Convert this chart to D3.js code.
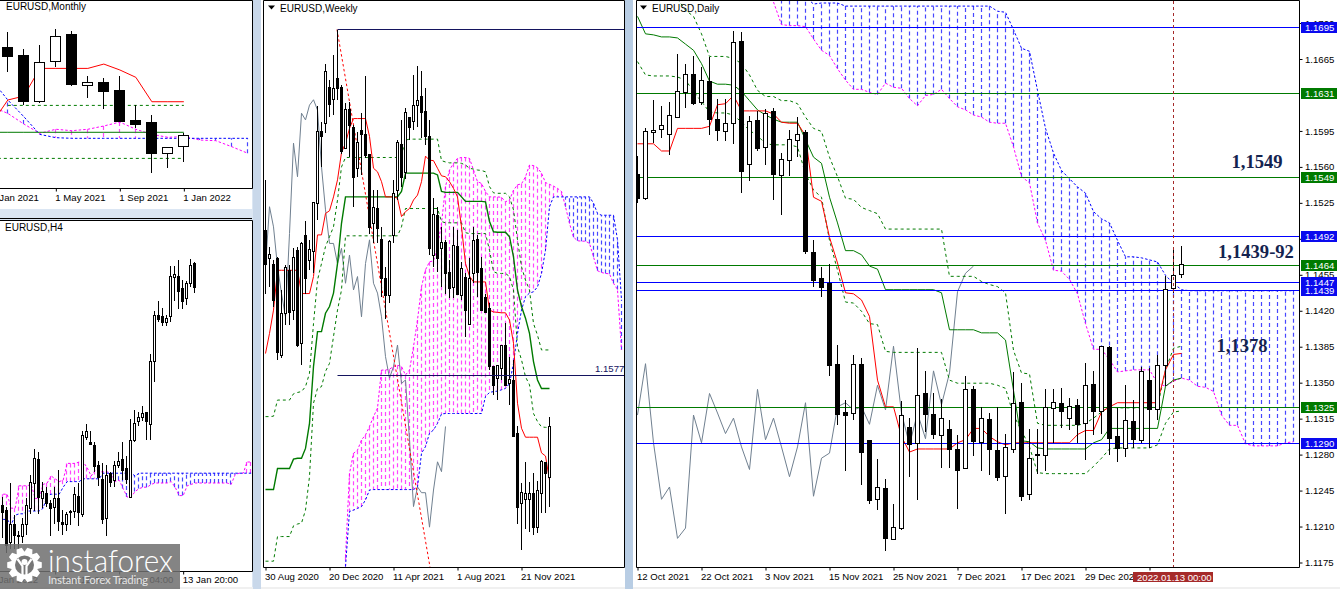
<!DOCTYPE html>
<html><head><meta charset="utf-8">
<script src="https://cdnjs.cloudflare.com/ajax/libs/d3/7.8.5/d3.min.js"></script>
<style>html,body{margin:0;padding:0;background:#dbe6f3}svg{display:block}text{font-family:"Liberation Sans",Arial,sans-serif;font-size:9.6px;fill:#000}</style>
</head><body><svg id="c" width="1340" height="589"></svg>
<script>
// All prices are quoted in points (price x 10000)
const dailyHigh=[11570,11597,11625,11619,11623,11669,11660,11667,11657,11666,11626,11626,11692,11691,11609,11614,11616,11617,11573,11595,11608,11595,11488,11462,11465,11386,11333,11376,11374,11294,11275,11256,11231,11332,11315,11383,11361,11339,11334,11313,11299,11356,11346,11326,11320,11326,11300,11360,11349,11304,11304,11343,11343,11344,11335,11334,11369,11361,11385,11385,11325,11347,11333,11365,11364,11376,11453,11482,11483];
const dailyLow=[11524,11527,11583,11588,11571,11607,11617,11620,11620,11591,11585,11585,11582,11534,11546,11575,11561,11527,11513,11551,11569,11475,11443,11433,11356,11308,11264,11313,11250,11231,11226,11186,11197,11206,11258,11235,11302,11295,11266,11266,11227,11266,11278,11264,11260,11254,11222,11281,11234,11235,11261,11264,11291,11305,11303,11291,11274,11299,11300,11279,11272,11277,11286,11291,11286,11313,11346,11437,11451];
const dailyOpen=[11553,11529,11593,11596,11592,11608,11632,11650,11623,11643,11606,11594,11602,11682,11562,11605,11579,11614,11552,11566,11586,11593,11477,11451,11447,11368,11321,11320,11368,11294,11236,11247,11197,11208,11306,11291,11339,11319,11299,11304,11285,11266,11343,11292,11314,11284,11259,11285,11331,11241,11280,11279,11325,11330,11315,11328,11310,11348,11322,11384,11298,11286,11312,11294,11352,11324,11367,11442,11455];
const dailyClose=[11529,11594,11595,11600,11610,11633,11650,11622,11644,11606,11595,11602,11681,11556,11604,11578,11612,11553,11567,11587,11592,11478,11449,11443,11367,11319,11318,11368,11282,11235,11248,11198,11209,11318,11290,11338,11319,11300,11315,11285,11265,11343,11293,11315,11285,11258,11287,11330,11239,11276,11279,11326,11331,11322,11327,11309,11347,11322,11385,11296,11286,11313,11295,11361,11324,11367,11441,11454,11465];
const dailyTenkan=[11582,11582,11582,11575,11575,11597,11597,11597,11597,11599,11620,11621,11629,11614,11614,11614,11614,11611,11603,11602,11602,11590,11530,11526,11491,11466,11437,11436,11430,11414,11352,11326,11326,11297,11282,11285,11285,11285,11285,11285,11291,11294,11305,11305,11297,11292,11289,11291,11291,11291,11291,11291,11291,11291,11291,11299,11303,11303,11321,11326,11330,11330,11330,11330,11330,11330,11362,11377,11378];
const dailyKijun=[11706,11689,11688,11686,11686,11685,11679,11673,11660,11643,11640,11640,11639,11633,11624,11615,11610,11606,11603,11603,11603,11586,11569,11563,11530,11505,11478,11478,11474,11463,11460,11440,11440,11440,11440,11440,11440,11440,11437,11401,11401,11401,11401,11398,11398,11398,11391,11342,11293,11292,11286,11285,11285,11285,11285,11285,11285,11291,11294,11305,11305,11305,11305,11305,11305,11305,11346,11352,11354];
const dailyUpper=[null,null,null,null,null,11723,11712,11706,11689,11667,11667,11667,11665,11660,11649,11634,11628,11628,11624,11624,11621,11608,11597,11594,11569,11550,11529,11528,11520,11517,11514,11499,11499,11499,11499,11499,11499,11499,11499,11453,11453,11453,11453,11448,11445,11443,11437,11381,11359,11358,11310,11308,11308,11308,11308,11308,11310,11315,11321,11326,11325,11325,11325,11325,11325,11326,11362,11383,11385];
const dailyLower=[11662,11649,11648,11648,11648,11647,11644,11633,11623,11613,11612,11612,11610,11603,11595,11590,11582,11581,11581,11581,11579,11553,11537,11530,11488,11459,11428,11427,11419,11407,11406,11380,11379,11379,11379,11379,11379,11379,11379,11352,11349,11349,11349,11349,11349,11347,11344,11318,11303,11287,11262,11261,11261,11261,11261,11261,11261,11268,11276,11285,11286,11286,11286,11286,11286,11289,11310,11321,11322];
const dailyChikou=[11318,11368,11291,11236,11248,11198,11208,11318,11291,11339,11320,11300,11315,11287,11265,11343,11294,11315,11287,11258,11287,11330,11239,11276,11281,11326,11330,11323,11326,11309,11347,11323,11385,11320,11289,11320,11295,11361,11328,11359,11438,11456,11463];
const dailySpanB=[null,null,null,null,null,null,null,null,null,null,null,null,null,null,null,null,null,null,11725,11725,11725,11725,11718,11719,11719,11719,11716,11716,11716,11716,11716,11716,11716,11716,11716,11716,11716,11716,11716,11716,11716,11716,11716,11716,11716,11711,11710,11693,11675,11672,11634,11597,11573,11556,11548,11540,11534,11516,11509,11505,11488,11472,11472,11471,11469,11467,11454,11446,11440,11439,11439,11439,11439,11439,11439,11439,11439,11439,11439,11439,11439,11439,11439];
const dailySpanA=[null,null,null,null,null,null,null,null,null,null,null,null,null,null,null,null,null,11720,11698,11697,11697,11696,11684,11673,11668,11655,11644,11635,11635,11632,11630,11641,11637,11636,11626,11619,11629,11630,11635,11626,11618,11615,11610,11608,11603,11602,11602,11579,11550,11544,11505,11488,11459,11458,11450,11436,11407,11382,11382,11372,11360,11361,11362,11362,11362,11349,11346,11351,11354,11352,11346,11345,11341,11318,11308,11308,11290,11288,11288,11288,11288,11291,11292];
const dailyTickIndex=[0,8,16,24,32,40,48,56,64];
const dailyTickLabels=["12 Oct 2021","22 Oct 2021","3 Nov 2021","15 Nov 2021","25 Nov 2021","7 Dec 2021","17 Dec 2021","29 Dec 2021",""];
const dailyPriceTicks=[1.1700,1.1665,1.1595,1.1560,1.1525,1.1490,1.1455,1.1420,1.1385,1.1350,1.1315,1.1280,1.1245,1.1210,1.1175];
const dailyBlueLevels=[1.1695,1.1492,1.1447,1.1439,1.1290];
const dailyGreenLevels=[1.1631,1.1549,1.1464,1.1325];

const weeklyHigh=[12013,11864,11834,11841,11767,11823,11823,11860,11864,11875,11920,11879,11964,12177,12143,12273,12236,12292,12349,12225,12184,12188,12136,12121,12162,12245,12071,11990,11990,11908,11819,11879,12013,12102,12147,12173,12154,12247,12267,12257,12218,12147,11972,11953,11908,11879,11834,11908,11901,11830,11804,11838,11908,11890,11841,11759,11737,11597,11600,11644,11693,11618,11610,11462,11335,11382,11339,11359,11341,11387,11383,11484];
const weeklyLow=[11759,11774,11730,11610,11614,11689,11689,11700,11640,11599,11759,11812,11804,11923,12042,12117,12154,12158,12192,12071,12083,12065,11953,12020,12024,12061,11893,11871,11871,11752,11703,11737,11871,11968,11998,12016,12102,12124,12132,12106,12091,11845,11819,11808,11774,11759,11748,11748,11759,11744,11663,11692,11782,11752,11722,11718,11588,11532,11521,11566,11555,11510,11441,11245,11186,11234,11227,11219,11223,11269,11268,11283];
const weeklyOpen=[11901,11838,11826,11838,11622,11715,11812,11722,11856,11648,11890,11834,11853,11961,12122,12139,12221,12193,12240,12220,12085,12171,12132,12039,12124,12115,12071,11917,11951,11880,11793,11756,11890,11990,12093,12031,12153,12145,12180,12200,12167,12110,11845,11934,11860,11875,11808,11774,11865,11756,11797,11692,11804,11882,11815,11752,11726,11597,11570,11592,11644,11560,11566,11447,11292,11301,11301,11313,11238,11313,11382,11350];
const weeklyClose=[11826,11847,11744,11629,11715,11819,11718,11841,11644,11873,11793,11858,11963,12122,12111,12256,12183,12218,12218,12078,12171,12136,12020,12098,12115,12069,11908,11953,11905,11793,11756,11877,11983,12098,12020,12164,12132,12180,12192,12165,12110,11860,11937,11838,11875,11804,11771,11867,11759,11815,11722,11793,11879,11808,11722,11718,11596,11555,11599,11644,11555,11567,11441,11281,11315,11313,11313,11237,11321,11385,11359,11463];
const weeklyTenkan=[11625,11670,11722,11811,11811,11811,11811,11811,11811,11759,11759,11759,11797,11890,11890,11938,11944,11975,12013,12074,12095,12128,12150,12150,12150,12150,12110,12039,12031,12009,11975,11975,11975,11972,11931,11942,11949,11968,11979,12009,12066,12057,12056,12039,12022,12020,12009,11994,11975,11908,11826,11798,11785,11785,11785,11785,11722,11718,11717,11716,11716,11700,11648,11514,11458,11438,11438,11438,11438,11403,11396,11342];
const weeklyKijun=[11321,11321,11321,11368,11368,11368,11368,11389,11391,11391,11413,11469,11596,11674,11674,11715,11730,11760,11826,11916,11975,11975,11975,11975,11975,11975,11975,11975,11975,11975,11975,11975,11975,11975,11987,12028,12028,12028,12028,12028,12028,12028,12028,12024,11987,11985,11985,11985,11985,11975,11965,11965,11965,11965,11965,11964,11920,11897,11896,11896,11896,11886,11841,11767,11730,11704,11670,11607,11566,11547,11547,11547];
const weeklyUpper=[11484,11484,11485,11521,11521,11521,11521,11535,11538,11540,11551,11581,11692,11789,11826,11864,11886,11908,11968,12042,12063,12063,12063,12063,12063,12063,12063,12063,12063,12063,12063,12063,12063,12063,12069,12102,12104,12104,12104,12104,12104,12104,12104,12104,12056,12053,12051,12051,12051,12050,12046,12039,12037,12035,12034,12031,11998,11984,11983,11983,11983,11975,11946,11879,11819,11789,11767,11692,11666,11633,11633,11633];
const weeklyLower=[11161,11161,11161,11216,11216,11216,11216,11240,11244,11246,11275,11350,11514,11547,11551,11585,11603,11663,11722,11767,11888,11888,11888,11888,11888,11888,11888,11888,11888,11888,11888,11888,11888,11888,11908,11949,11949,11949,11949,11949,11949,11949,11949,11949,11920,11917,11917,11917,11917,11917,11895,11893,11893,11893,11893,11893,11856,11808,11804,11804,11804,11797,11767,11640,11611,11573,11555,11491,11473,11461,11460,11460];
const weeklyChikou=[11819,11953,11908,11819,11759,11707,11893,12095,12020,12162,12147,12180,12192,12169,12042,11946,11871,11871,11826,11860,11782,11845,11767,11797,11707,11826,11879,11782,11760,11707,11618,11570,11596,11644,11558,11566,11432,11283,11327,11314,11314,11237,11320,11383,11361,11462];
const weeklySpanA=[null,null,null,null,null,null,null,null,null,null,null,null,null,null,null,null,null,null,null,null,11171,11357,11402,11409,11432,11443,11462,11484,11503,11588,11588,11590,11596,11599,11596,11577,11588,11640,11700,11774,11812,11830,11832,11864,11916,11998,12035,12050,12061,12063,12063,12061,12035,12009,12005,11987,11975,11975,11975,11974,11964,11968,11990,12002,12004,12020,12046,12045,12040,12028,12007,12003,11999,11994,11987,11953,11916,11885,11877,11876,11876,11871,11841,11810,11806,11804,11803,11782,11768,11633];
const weeklySpanB=[null,null,null,null,null,null,null,null,null,null,null,null,null,null,null,null,null,null,null,null,11149,11272,11275,11279,11283,11298,11320,11321,11321,11321,11321,11321,11321,11321,11321,11321,11321,11321,11327,11402,11417,11447,11454,11469,11490,11491,11491,11491,11491,11491,11491,11491,11491,11491,11491,11529,11538,11540,11541,11544,11547,11558,11603,11670,11722,11752,11760,11763,11774,11804,11856,11953,11975,11975,11975,11975,11975,11975,11975,11975,11975,11975,11961,11938,11934,11934,11934,11934,11879,11745];
const weeklyTickIndex=[0,16,32,48,64];
const weeklyTickLabels=["30 Aug 2020","20 Dec 2020","11 Apr 2021","1 Aug 2021","21 Nov 2021"];
const weeklyPeak=12349, weeklyPeakIndex=18, weeklyLevel=11577, weeklyTrendEndIndex=41.25, weeklyTrendEnd=11148;

const monthlyHigh=[12349,12258,12129,12159,12281,12266,11923,11905,11923,11699,11623,11384,11486];
const monthlyLow=[12056,11956,11699,11720,11994,11847,11758,11669,11575,11524,11186,11224,11268];
const monthlyOpen=[12214,12144,12083,11735,12040,12240,11857,11875,11816,11588,11570,11339,11387];
const monthlyClose=[12136,12078,11735,12027,12231,11864,11875,11811,11583,11560,11339,11384,11471];
const monthlyTenkan=[11562,11740,11770,11981,11981,11981,11981,12014,11969,11913,11727,11727,11727];
const monthlyKijun=[11494,11494,11494,11494,11494,11494,11494,11494,11494,11494,11494,11494,11494];
const monthlyUpper=[null,11699,11699,11699,11699,11699,11699,11699,11699,11699,11699,11699,11699];
const monthlyLower=[11295,11295,11295,11295,11295,11295,11295,11295,11295,11295,11295,11295,11295];
const monthlySpanA=[11689,11638,11557,11486,11517,11506,11517,11542,11572,11517,11478,11456,11461,11435,11430,11384,11334];
const monthlySpanB=[11892,11740,11613,11478,11453,11448,11448,11448,11448,11448,11448,11448,11448,11448,11448,11448,11448];
const monthlyTickIndex=[0,4,8,12];
const monthlyTickLabels=["1 Jan 2021","1 May 2021","1 Sep 2021","1 Jan 2022"];

const h4High=[11312,11305,11322,11299,11288,11297,11311,11328,11346,11344,11323,11319,11310,11319,11331,11303,11301,11303,11319,11322,11359,11364,11359,11351,11338,11336,11335,11330,11338,11344,11351,11341,11368,11374,11373,11377,11373,11414,11445,11452,11447,11442,11477,11477,11481,11467,11466,11482,11480];
const h4Low=[11283,11272,11275,11275,11275,11279,11285,11300,11302,11300,11304,11305,11284,11293,11288,11285,11288,11292,11297,11291,11298,11353,11349,11330,11320,11293,11284,11319,11319,11333,11324,11321,11312,11351,11363,11366,11353,11353,11394,11437,11434,11434,11437,11452,11446,11446,11449,11462,11458];
const h4Open=[11306,11303,11280,11293,11284,11284,11293,11304,11322,11339,11311,11315,11308,11305,11311,11294,11293,11301,11302,11313,11300,11355,11351,11349,11335,11325,11297,11329,11324,11335,11339,11333,11312,11353,11366,11369,11373,11364,11409,11442,11441,11437,11441,11469,11470,11461,11454,11465,11479];
const h4Close=[11301,11278,11293,11285,11285,11293,11306,11323,11340,11312,11316,11308,11304,11311,11295,11293,11300,11302,11314,11301,11356,11359,11350,11334,11326,11296,11328,11323,11335,11338,11331,11325,11353,11365,11369,11372,11366,11409,11442,11439,11437,11440,11470,11471,11459,11452,11465,11478,11462];
const h4SpanA=[11314,11314,11304,11304,11320,11320,11320,11321,11311,11311,11321,11322,11327,11325,11323,11324,11336,11336,11336,11337,11337,11333,11327,11331,11330,11330,11330,11329,11323,11324,11318,11312,11312,11316,11318,11319,11319,11321,11322,11322,11322,11322,11323,11319,11313,11313,11320,11321,11322,11322,11322,11322,11322,11322,11322,11322,11322,11321,11328,11329,11329,11337,11337];
const h4SpanB=[11296,11296,11292,11299,11300,11300,11302,11302,11302,11302,11304,11313,11314,11314,11314,11319,11323,11323,11323,11323,11325,11325,11325,11325,11325,11329,11329,11329,11329,11329,11329,11329,11329,11327,11329,11329,11329,11329,11329,11329,11329,11329,11329,11329,11329,11329,11329,11329,11329,11329,11329,11329,11329,11329,11329,11329,11329,11329,11329,11329,11329,11329,11329];
const h4TickIndex=[-3,13,29,45];
const h4TickLabels=["5 Jan 2022","7 Jan 12:00","11 Jan 04:00","13 Jan 20:00"];

const GREEN="#007a00",BLUE="#0000ff",MAG="#ff00ff",RED="#ff0000",GREY="#708090",NAVY="#14145f";
const svg=d3.select("#c");
svg.append("rect").attr("width",1340).attr("height",589).attr("fill","#dbe6f3");
svg.append("rect").attr("y",587).attr("width",1340).attr("height",2).attr("fill","#f0f0f0");
svg.append("rect").attr("x",253).attr("width",8).attr("height",589).attr("fill","#c9d8ea");
svg.append("rect").attr("x",625).attr("width",8).attr("height",589).attr("fill","#b8cde4");

function pane(o){
  const g=svg.append("g");
  g.append("rect").attr("x",o.bx).attr("y",o.by).attr("width",o.bw).attr("height",o.bh).attr("fill","#fff");
  const id="clip"+o.name;
  svg.append("clipPath").attr("id",id).append("rect").attr("x",o.left).attr("y",o.top).attr("width",o.right-o.left).attr("height",o.bottom-o.top);
  const x=d3.scaleLinear().domain([0,1]).range([o.x0,o.x0+o.step]);
  const y=d3.scaleLinear().domain([o.p0/1e4,o.p1/1e4]).range([o.y0,o.y1]);
  const yp=v=>y(v/1e4);
  const sx=i=>Math.floor(x(i))+0.5;
  const plot=g.append("g").attr("clip-path","url(#"+id+")");
  // cloud
  if(o.spanA){
    const A=o.spanA,B=o.spanB;
    const idx=d3.range(A.length).filter(i=>A[i]!=null&&B[i]!=null);
    plot.append("g").selectAll("line").data(idx).join("line")
      .attr("x1",i=>sx(i)).attr("x2",i=>sx(i)).attr("y1",i=>yp(A[i])).attr("y2",i=>yp(B[i]))
      .style("stroke",i=>A[i]>=B[i]?MAG:BLUE).attr("stroke-width",1.2).attr("stroke-opacity",0.72).attr("stroke-dasharray","4,3");
    [[A,MAG],[B,BLUE]].forEach(([s,c])=>{
      plot.append("path").attr("fill","none").attr("stroke",c).attr("stroke-dasharray","2.5,2")
        .attr("d",d3.line().defined(d=>d!=null).x((d,i)=>x(i)+.5).y(d=>yp(d))(s));
    });
  }
  (o.lines||[]).forEach(l=>{
    plot.append("path").attr("fill","none").attr("stroke",l.c).attr("stroke-width",l.w||1)
      .attr("stroke-dasharray",l.dash||null)
      .attr("d",d3.line().defined(d=>d!=null).x((d,i)=>x(i)+.5).y(d=>yp(d))(l.s));
  });
  if(o.extra) o.extra(plot,x,y,yp);
  // candles
  const idx=d3.range(o.high.length);
  const c=plot.append("g");
  c.selectAll("line").data(idx).join("line").attr("x1",i=>sx(i)).attr("x2",i=>sx(i))
    .attr("y1",i=>Math.round(yp(o.high[i]))).attr("y2",i=>Math.round(yp(o.low[i]))).attr("stroke","#000");
  c.selectAll("rect").data(idx).join("rect")
    .attr("x",i=>sx(i)-Math.ceil(o.bodyW/2))
    .attr("width",o.bodyW)
    .attr("y",i=>Math.round(yp(Math.max(o.open[i],o.close[i])))+.5)
    .attr("height",i=>Math.max(1,Math.round(yp(Math.min(o.open[i],o.close[i])))-Math.round(yp(Math.max(o.open[i],o.close[i])))))
    .attr("fill",i=>o.close[i]>o.open[i]?"#fff":"#000").attr("stroke","#000");
  if(o.over) o.over(plot,x,y,yp);
  // frame
  g.append("path").attr("fill","none").attr("stroke","#000")
    .attr("d",`M${o.left-.5},${o.top-.5}H${o.right+.5}V${o.bottom+.5}H${o.left-.5}Z`);
  // time axis
  const ax=d3.axisBottom(x).tickValues(o.ticks).tickFormat((d,i)=>o.labels[i]).tickSize(3).tickSizeOuter(0);
  const ag=g.append("g").attr("transform",`translate(0.5,${o.bottom+.5})`).call(ax);
  ag.select(".domain").remove();
  ag.selectAll("line").attr("stroke","#000");
  ag.selectAll("text").attr("text-anchor","start").attr("x",-1).attr("y",o.axisTextY||6).attr("dy","0.71em").attr("fill","#000").style("font-size","9.6px").style("font-family",'"Liberation Sans",Arial,sans-serif');
  // title
  if(o.tri) g.append("path").attr("d",`M${o.tri},5.5h7l-3.5,4z`).attr("fill","#000");
  g.append("text").attr("x",o.tx).attr("y",o.ty).text(o.title).style("font-size","10px");
  return {g,x,y,yp,sx};
}

// ---------- monthly
pane({name:"m",bx:0,by:0,bw:252,bh:209,left:-2,right:252,top:1,bottom:188,x0:-8.67,step:16,p0:12266,p1:11186,y0:31,y1:172.7,
  high:monthlyHigh,low:monthlyLow,open:monthlyOpen,close:monthlyClose,bodyW:10,spanA:monthlySpanA,spanB:monthlySpanB,
  lines:[{s:monthlyLower,c:GREEN,dash:"3,3"},{s:monthlyUpper,c:GREEN,dash:"3,3"},{s:monthlyKijun,c:GREEN},{s:monthlyTenkan,c:RED}],
  ticks:monthlyTickIndex,labels:monthlyTickLabels,title:"EURUSD,Monthly",tx:6,ty:10});
// ---------- H4
pane({name:"h",bx:0,by:220,bw:252,bh:367,left:-2,right:252,top:221,bottom:571,x0:2.67,step:4,p0:11482,p1:11282,y0:259,y1:539,
  high:h4High,low:h4Low,open:h4Open,close:h4Close,bodyW:2,spanA:h4SpanA,spanB:h4SpanB,
  ticks:h4TickIndex,labels:h4TickLabels,title:"EURUSD,H4",tx:5,ty:231,axisTextY:5});
svg.append("line").attr("x1",0).attr("x2",252).attr("y1",218.5).attr("y2",218.5).attr("stroke","#000");

// ---------- weekly
pane({name:"w",bx:261,by:0,bw:364,bh:587,left:264,right:624,top:1,bottom:567,x0:265,step:4,p0:11577,p1:12349,y0:375,y1:29.5,
  high:weeklyHigh,low:weeklyLow,open:weeklyOpen,close:weeklyClose,bodyW:2,spanA:weeklySpanA,spanB:weeklySpanB,
  lines:[{s:weeklyChikou,c:GREY},{s:weeklyLower,c:GREEN,dash:"3,3"},{s:weeklyUpper,c:GREEN,dash:"3,3"},{s:weeklyKijun,c:GREEN,w:1.4},{s:weeklyTenkan,c:RED}],
  extra:(p,x,y,yp)=>{
    p.append("line").attr("x1",x(weeklyPeakIndex)).attr("y1",yp(weeklyPeak)).attr("x2",x(weeklyTrendEndIndex)).attr("y2",yp(weeklyTrendEnd)).attr("stroke",RED).attr("stroke-dasharray","2.5,2.5");
  },
  over:(p,x,y,yp)=>{
    [weeklyPeak,weeklyLevel].forEach(v=>{
      p.append("line").attr("x1",Math.floor(x(weeklyPeakIndex))+.5).attr("x2",624).attr("y1",Math.floor(yp(v))+.5).attr("y2",Math.floor(yp(v))+.5).attr("stroke",NAVY);
    });
    p.append("text").attr("x",595).attr("y",yp(weeklyLevel)-3).text((weeklyLevel/1e4).toFixed(4)).style("fill",NAVY);
  },
  ticks:weeklyTickIndex,labels:weeklyTickLabels,title:"EURUSD,Weekly",tx:280,ty:12,tri:268});

// ---------- daily
const d=pane({name:"d",bx:633,by:0,bw:707,bh:587,left:637,right:1299,top:1,bottom:567,x0:637,step:8,p0:11665,p1:11175,y0:58.5,y1:562,
  high:dailyHigh,low:dailyLow,open:dailyOpen,close:dailyClose,bodyW:4,spanA:dailySpanA,spanB:dailySpanB,
  lines:[{s:dailyChikou,c:GREY},{s:dailyLower,c:GREEN,dash:"3,3"},{s:dailyUpper,c:GREEN,dash:"3,3"},{s:dailyKijun,c:GREEN},{s:dailyTenkan,c:RED}],
  extra:(p,x,y)=>{
    dailyBlueLevels.forEach(v=>p.append("line").attr("x1",637).attr("x2",1299).attr("y1",Math.floor(y(v))+.5).attr("y2",Math.floor(y(v))+.5).attr("stroke",BLUE));
    dailyGreenLevels.forEach(v=>p.append("line").attr("x1",637).attr("x2",1299).attr("y1",Math.floor(y(v))+.5).attr("y2",Math.floor(y(v))+.5).attr("stroke",GREEN));
  },
  over:(p,x)=>{
    p.append("line").attr("x1",Math.floor(x(67))+.5).attr("x2",Math.floor(x(67))+.5).attr("y1",1).attr("y2",567).attr("stroke","#a52a2a").attr("stroke-dasharray","3,3");
  },
  ticks:dailyTickIndex,labels:dailyTickLabels,title:"EURUSD,Daily",tx:652,ty:12,tri:640});
const yax=d3.axisRight(d.y).tickValues(dailyPriceTicks).tickFormat(d3.format(".4f")).tickSize(3).tickSizeOuter(0);
const yg=d.g.append("g").attr("transform","translate(1299.5,0.5)").call(yax);
yg.select(".domain").remove();
yg.selectAll("text").attr("x",5.5).style("font-size","9.6px").style("font-family",'"Liberation Sans",Arial,sans-serif').attr("fill","#000");
[[dailyBlueLevels,"#0a0aee"],[dailyGreenLevels,"#007a00"]].forEach(([a,c])=>a.forEach(v=>{
  d.g.append("rect").attr("x",1301).attr("y",Math.floor(d.y(v))-5).attr("width",36).attr("height",11).attr("fill",c);
}));
[[dailyBlueLevels],[dailyGreenLevels]].forEach(([a])=>a.forEach(v=>{
  d.g.append("text").attr("x",1305).attr("y",Math.floor(d.y(v))+4).text(v.toFixed(4)).style("fill","#fff");
}));
d.g.append("rect").attr("x",1133).attr("y",572).attr("width",80).attr("height",10).attr("fill","#a52a2a");
d.g.append("text").attr("x",1137).attr("y",580.5).text("2022.01.13 00:00").style("fill","#fff");
[["1,1549",1231.5,168],["1,1439-92",1218,258],["1,1378",1216.5,352]].forEach(([t,tx,ty])=>{
  d.g.append("text").attr("x",tx).attr("y",ty).text(t).style("font-family",'"Liberation Serif",serif').style("font-weight","bold").style("font-size","18.6px").style("fill","#14234f");
});

// ---------- logo
const logo=svg.append("g");
logo.append("rect").attr("x",0).attr("y",544).attr("width",180).attr("height",45).attr("fill","#707070").attr("fill-opacity",0.86);
const gear=[];const n=10,cx=24.5,cy=565;
for(let k=0;k<n;k++){const a=k*2*Math.PI/n;const t=Math.PI/n;
  [[a-t*.95,13.5],[a-t*.5,17.5],[a+t*.5,17.5],[a+t*.95,13.5]].forEach(([b,r])=>gear.push([cx+r*Math.cos(b),cy+r*Math.sin(b)]));}
logo.append("path").attr("d",d3.line()(gear)+"Z").attr("fill","#fff");
logo.append("circle").attr("cx",cx).attr("cy",cy).attr("r",9.5).attr("fill","#777");
logo.append("circle").attr("cx",cx).attr("cy",cy-3).attr("r",3).attr("fill","#fff");
logo.append("path").attr("d",`M${cx-7},${cy-6}L${cx-2},${cy+1}V${cy+13}H${cx+2}V${cy+1}L${cx+7},${cy-6}`).attr("fill","none").attr("stroke","#fff").attr("stroke-width",2.2);
logo.append("text").attr("x",48).attr("y",572).attr("textLength",125).attr("lengthAdjust","spacingAndGlyphs").text("instaforex")
  .style("font-family","Lato,'Open Sans',sans-serif").style("font-weight","300").style("font-size","31px").style("fill","#fff");
logo.append("text").attr("x",48).attr("y",584).attr("textLength",100).text("Instant Forex Trading")
  .style("font-family","Lato,'Open Sans',sans-serif").style("font-size","11.5px").style("fill","#e4e4e4");
</script></body></html>
